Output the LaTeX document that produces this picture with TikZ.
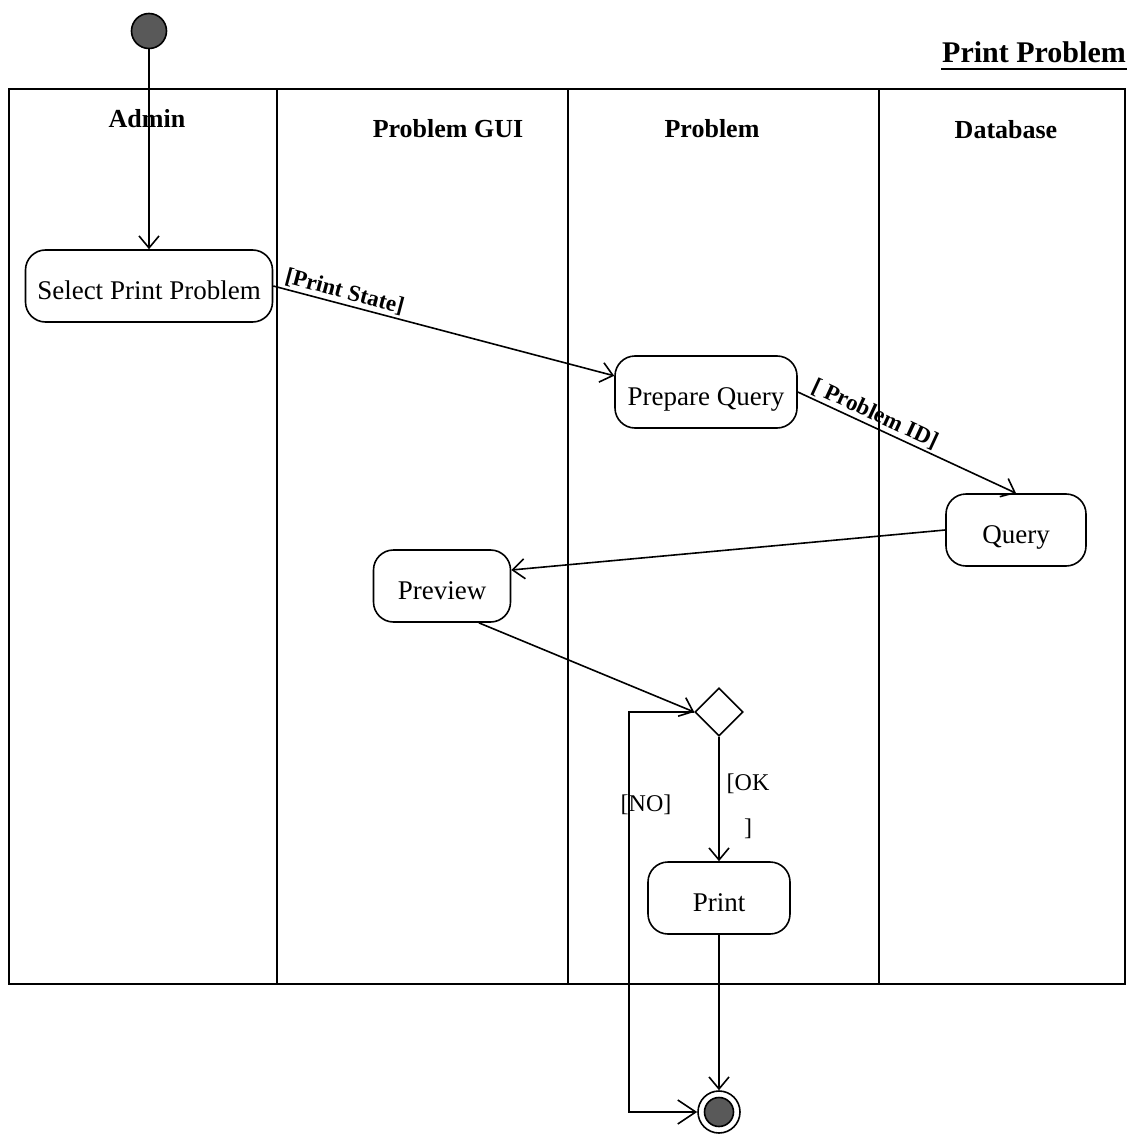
\documentclass[tikz,border=0pt]{standalone}
\usepackage{fontspec}
\setmainfont{Liberation Serif}
\usetikzlibrary{arrows.meta,shapes.geometric}
\begin{document}
\begin{tikzpicture}[x=1pt,y=-1pt,
  line width=1.6pt,
  flow/.style={-{Straight Barb[length=12pt,width=20pt]}},
  bigflow/.style={-{Straight Barb[length=18pt,width=24pt]}},
  activity/.style={draw, rounded corners=20pt, minimum height=72pt, inner sep=0pt,
    font=\fontsize{27}{32}\selectfont, text height=27pt, text depth=0pt},
  lanehead/.style={font=\fontsize{26}{30}\selectfont\bfseries, anchor=base, inner sep=0pt},
  guard/.style={font=\fontsize{23}{27}\selectfont\bfseries, sloped, above, inner sep=2pt},
  branch/.style={font=\fontsize{24}{45}\selectfont, align=center, inner sep=0pt},
  initial/.style={circle, draw, fill=black!65, minimum size=35pt, inner sep=0pt},
  decision/.style={diamond, draw, minimum width=48pt, minimum height=48pt, inner sep=0pt},
]
\useasboundingbox (0,0) rectangle (1133,1139);

% title
\node[font=\fontsize{30}{34}\selectfont\bfseries, anchor=base, inner sep=0pt] (title) at (1034,63) {Print Problem};
\draw[line width=1.8pt] ([yshift=-6pt]title.base west) -- ([yshift=-6pt]title.base east);

% swimlane frame
\draw (9,89) rectangle (1125,984);
\draw (277,89) -- (277,984);
\draw (568,89) -- (568,984);
\draw (879,89) -- (879,984);

% lane headings
\node[lanehead] (hadmin) at (147,128) {Admin};
\node[lanehead] (hgui) at (448,138) {Problem GUI};
\node[lanehead] (hprob) at (712,138) {Problem};
\node[lanehead] (hdb) at (1006,139) {Database};

% activities
\node[initial] (start) at (149,31) {};
\node[activity, minimum width=247pt] (select) at (149,286) {Select Print Problem};
\node[activity, minimum width=182pt] (prep) at (706,392) {Prepare Query};
\node[activity, minimum width=140pt] (query) at (1016,530) {Query};
\node[activity, minimum width=137pt] (preview) at (442,586) {Preview};
\node[decision] (dec) at (719,712) {};
\node[activity, minimum width=142pt] (print) at (719,898) {Print};
\node[circle, draw, minimum size=42pt, inner sep=0pt] (endo) at (719,1112) {};
\node[circle, draw, fill=black!65, minimum size=29pt, inner sep=0pt] (endi) at (endo) {};

% flows
\draw[flow] (start) -- (select.north);
\draw[flow] (select.east) -- node[guard, pos=0.2] {[Print State]} (prep.170);
\draw[flow] (prep.east) -- node[guard, pos=0.33] {[ Problem ID]} (query.north);
\draw[flow] (query.west) -- (preview.13);
\draw[flow] (preview.-45) -- (dec.west);
\draw[flow] (dec.south) -- (print.north);
\node[branch] (oklabel) at (748,806) {[OK\\]};
\draw[bigflow] (dec.west) -- ++(-65,0) |- (endo.west);
\node[font=\fontsize{24}{28}\selectfont, inner sep=0pt] (nolabel) at (646,805) {[NO]};
\draw[flow] (print.south) -- (endo.north);
\end{tikzpicture}
\end{document}
